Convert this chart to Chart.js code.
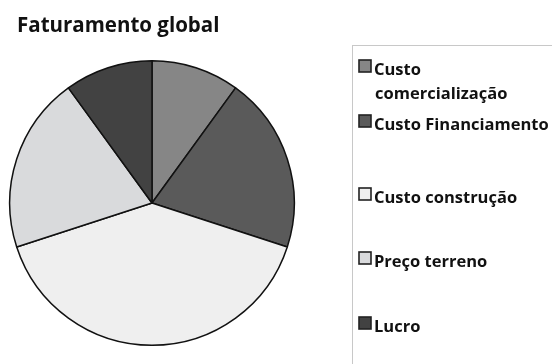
<!DOCTYPE html>
<html>
<head>
<meta charset="utf-8">
<script src="https://cdn.jsdelivr.net/npm/chart.js@4/dist/chart.umd.min.js"></script>
<style>
  html, body { margin: 0; padding: 0; background: #fff; }
  #wrap { width: 552px; height: 364px; position: relative; }
</style>
</head>
<body>
<div id="wrap"><canvas id="pie"></canvas></div>
<script>
var chartTitle = "Faturamento global";
var labels = ["Custo comercialização", "Custo Financiamento", "Custo construção", "Preço terreno", "Lucro"];
// legend text as it wraps in the box
var legendLines = [["Custo", "comercialização"], ["Custo Financiamento"], ["Custo construção"], ["Preço terreno"], ["Lucro"]];
var values = [10, 20, 40, 20, 10];
var colors = ["#868686", "#5a5a5a", "#efefef", "#d9dadc", "#424242"];

// baseline of the first line of every legend entry
var legendBaselines = [75, 130, 203, 267, 332];

var boxLegend = {
  id: "boxLegend",
  afterDraw: function (chart) {
    var ctx = chart.ctx;
    ctx.save();

    // title
    ctx.fillStyle = "#111";
    ctx.font = "bold 20.5px 'Open Sans'";
    ctx.textBaseline = "alphabetic";
    ctx.fillText(chartTitle, 17, 32);

    // legend frame
    ctx.strokeStyle = "#c8c8c8";
    ctx.lineWidth = 1;
    ctx.strokeRect(352.5, 45.5, 260, 340);

    ctx.font = "bold 16.5px 'Open Sans'";
    for (var i = 0; i < legendLines.length; i++) {
      var y = legendBaselines[i];
      ctx.fillStyle = colors[i];
      ctx.fillRect(359, y - 15, 12, 12);
      ctx.strokeStyle = "#222";
      ctx.lineWidth = 1.6;
      ctx.strokeRect(359, y - 15, 12, 12);
      ctx.fillStyle = "#111";
      for (var j = 0; j < legendLines[i].length; j++) {
        ctx.fillText(legendLines[i][j], j == 0 ? 374 : 375, y + j * 24);
      }
    }
    ctx.restore();
  }
};

new Chart(document.getElementById("pie"), {
  type: "pie",
  data: {
    labels: labels,
    datasets: [{
      data: values,
      backgroundColor: colors,
      borderColor: "#111",
      borderWidth: 1.5
    }]
  },
  options: {
    responsive: true,
    maintainAspectRatio: false,
    animation: false,
    layout: { padding: { left: 9, right: 257, top: 60, bottom: 18 } },
    plugins: {
      legend: { display: false },
      title: { display: false },
      tooltip: { enabled: false }
    }
  },
  plugins: [boxLegend]
});
</script>
</body>
</html>
